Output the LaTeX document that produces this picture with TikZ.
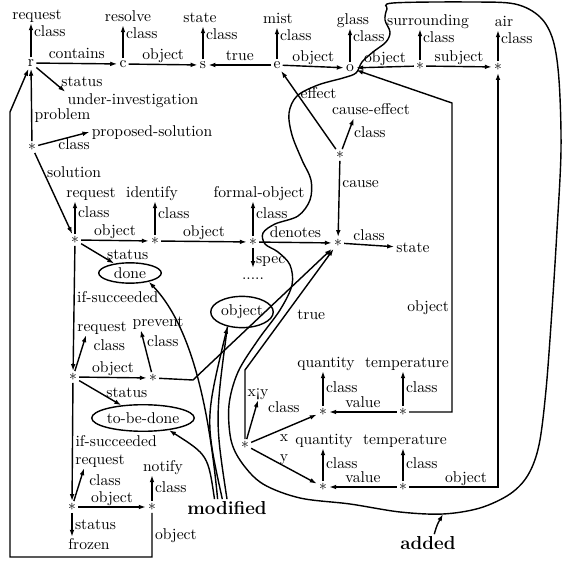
\documentclass[tikz,border=0pt]{standalone}
\usetikzlibrary{arrows.meta,shapes.geometric}
\begin{document}
\begin{tikzpicture}[x=0.64pt, y=-0.64pt, line width=0.9pt, >={Latex[length=4.5pt,width=3pt]},
    ast/.style={inner sep=1pt},
    word/.style={inner sep=1pt, text height=1.5ex, text depth=0.25ex},
    lab/.style={inner sep=1.5pt, text height=1.5ex, text depth=0.25ex},
    tag/.style={draw, ellipse, inner sep=0pt},
    big/.style={inner sep=1pt, font=\large\bfseries}]
  \useasboundingbox (0,0) rectangle (566,564);

  \node[ast] (r) at (31,63) {r};
  \node[ast] (c) at (123,64) {c};
  \node[ast] (s) at (203,65) {s};
  \node[ast] (e) at (277,65) {e};
  \node[ast] (o) at (350,68) {o};
  \node[ast] (surr) at (420,66) {$*$};
  \node[ast] (air) at (498,67) {$*$};

  \node[word] (request) at (37,15) {request};
  \node[word] (resolve) at (128,17) {resolve};
  \node[word] (state) at (200,18) {state};
  \node[word] (mist) at (278,19) {mist};
  \node[word] (glass) at (353,20) {glass};
  \node[word] (surrounding) at (428,21) {surrounding};
  \node[word] (airw) at (504,22) {air};

  \draw[->] (r) -- (r |- request.south) node[lab, pos=0.72, right] {class};
  \draw[->] (c) -- (c |- resolve.south) node[lab, pos=0.72, right] {class};
  \draw[->] (s) -- (s |- state.south) node[lab, pos=0.72, right] {class};
  \draw[->] (e) -- (e |- mist.south) node[lab, pos=0.72, right] {class};
  \draw[->] (o) -- (o |- glass.south) node[lab, pos=0.72, right] {class};
  \draw[->] (surr) -- (surr |- surrounding.south) node[lab, pos=0.72, right] {class};
  \draw[->] (air) -- (air |- airw.south) node[lab, pos=0.72, right] {class};

  \draw[->] (r) -- (c) node[lab, midway, above] {contains};
  \draw[->] (c) -- (s) node[lab, midway, above] {object};
  \draw[->] (e) -- (s) node[lab, midway, above] {true};
  \draw[->] (e) -- (o) node[lab, midway, above] {object};
  \draw[->] (surr) -- (o) node[lab, midway, above] {object};
  \draw[->] (surr) -- (air) node[lab, midway, above] {subject};

  \node[word] (ui) at (133,100) {under-investigation};
  \draw[->] (r) -- (ui.north west) node[lab, pos=0.6, right=3pt] {status};

  \node[ast] (p) at (32,147) {$*$};
  \node[word] (ps) at (152,132) {proposed-solution};
  \draw[->] (p) -- (r) node[lab, pos=0.35, right] {problem};
  \draw[->] (p) -- (ps.west) node[lab, pos=0.7, below] {class};

  \node[ast] (s1) at (75,240) {$*$};
  \node[word] (request2) at (91,193) {request};
  \node[ast] (s2) at (155,241) {$*$};
  \node[word] (identify) at (152,193) {identify};
  \node[ast] (f) at (253,242) {$*$};
  \node[word] (formal) at (259,193) {formal-object};
  \node[ast] (st) at (338,243) {$*$};
  \node[word] (state2) at (413,248) {state};
  \node[ast] (ce) at (340,155) {$*$};
  \node[word] (causeeffect) at (371,110) {cause-effect};
  \node[inner sep=1pt] (dots) at (253,279) {.....};

  \draw[->] (p) -- (s1) node[lab, pos=0.25, right] {solution};
  \draw[->] (s1) -- (s1 |- request2.south) node[lab, pos=0.62, right] {class};
  \draw[->] (s2) -- (s2 |- identify.south) node[lab, pos=0.62, right] {class};
  \draw[->] (f) -- (f |- formal.south) node[lab, pos=0.62, right] {class};
  \draw[->] (s1) -- (s2) node[lab, midway, above] {object};
  \draw[->] (s2) -- (f) node[lab, midway, above] {object};
  \draw[->] (f) -- (st) node[lab, midway, above] {denotes};
  \draw[->] (st) -- (state2) node[lab, midway, above] {class};
  \draw[->] (ce) -- (st) node[lab, pos=0.3, right] {cause};
  \draw[->] (ce) -- ([xshift=-11pt]causeeffect.south) node[lab, pos=0.5, right=2pt] {class};
  \draw[->] (ce) -- (e) node[lab, pos=0.7, right] {effect};
  \draw[->, shorten >=5pt] (f) -- (f |- dots.north) node[lab, pos=0.4, right] {spec};

  \node[tag, minimum width=40pt, minimum height=13pt] (done) at (130,273) {done};
  \draw[->] (s1) -- (done) node[lab, pos=0.6, right=2pt] {status};

  \node[ast] (t1) at (73,377) {$*$};
  \node[word] (request3) at (102,327) {request};
  \node[ast] (t2) at (153,378) {$*$};
  \node[word] (prevent) at (158,322) {prevent};
  \node[tag, minimum width=56pt, minimum height=17pt] (tbd) at (143,418) {to-be-done};
  \node[tag, minimum width=40pt, minimum height=20pt] (obj) at (242,312) {object};

  \draw[->] (s1) -- (t1) node[lab, pos=0.42, right] {if-succeeded};
  \draw[->] (t1) -- ([xshift=7pt]request3.south west) node[lab, pos=0.7, right=5pt] {class};
  \draw[->] (t2) -- ([xshift=-11pt]prevent.south) node[lab, pos=0.7, right] {class};
  \draw[->] (t1) -- (t2) node[lab, midway, above] {object};
  \draw[->] (t1) -- (tbd) node[lab, midway, right=2pt] {status};

  \node[ast] (b1) at (72,507) {$*$};
  \node[word] (request4) at (100,460) {request};
  \node[ast] (b2) at (152,507) {$*$};
  \node[word] (notify) at (163,467) {notify};
  \node[word] (frozen) at (89,545) {frozen};

  \draw[->] (t1) -- (b1) node[lab, pos=0.5, right] {if-succeeded};
  \draw[->] (b1) -- ([xshift=7pt]request4.south west) node[lab, pos=0.6, right=4pt] {class};
  \draw[->] (b2) -- (b2 |- notify.south) node[lab, midway, right] {class};
  \draw[->] (b1) -- (b2) node[lab, midway, above] {object};
  \draw[->] (b1) -- (b1 |- frozen.north) node[lab, midway, right] {status};

  \coordinate (k1) at (10,557);
  \coordinate (k2) at (10,112);
  \draw[->] (b2) -- (b2 |- k1) node[lab, midway, right] {object} -- (k1) -- (k2) -- (r);

  \node[ast] (xy) at (245,445) {$*$};
  \node[word] (xyw) at (258,392) {x¡y};
  \node[ast] (q1) at (323,412) {$*$};
  \node[ast] (tt1) at (403,412) {$*$};
  \node[ast] (q2) at (323,487) {$*$};
  \node[ast] (tt2) at (403,487) {$*$};
  \node[word] (quant1) at (326,363) {quantity};
  \node[word] (temp1) at (407,363) {temperature};
  \node[word] (quant2) at (324,440) {quantity};
  \node[word] (temp2) at (405,440) {temperature};

  \draw[->] (xy) -- (xyw.south) node[lab, pos=0.8, right=6pt] {class};
  \draw[->] (xy) -- (q1) node[lab, midway, below] {x};
  \draw[->] (xy) -- (q2) node[lab, midway, above] {y};
  \draw[->] (q1) -- (q1 |- quant1.south) node[lab, midway, right] {class};
  \draw[->] (tt1) -- (tt1 |- temp1.south) node[lab, midway, right] {class};
  \draw[->] (q2) -- (q2 |- quant2.south) node[lab, midway, right] {class};
  \draw[->] (tt2) -- (tt2 |- temp2.south) node[lab, midway, right] {class};
  \draw[->] (tt1) -- (q1) node[lab, midway, above] {value};
  \draw[->] (tt2) -- (q2) node[lab, midway, above] {value};

  \coordinate (k3) at (452,103);
  \draw[->] (tt1) -- (tt1 -| k3) -- (k3) node[lab, pos=0.34, left] {object} -- (o);
  \draw[->] (tt2) -- (tt2 -| air) node[lab, pos=0.64, above] {object} -- (air);

  \coordinate (k4) at (193,380);
  \coordinate (k5) at (242,370);
  \draw[->] (t2) -- (k4) -- (st);
  \draw[->] (xy) -- (xy |- k5) -- (st) node[lab, pos=0.45, right=6pt] {true};

  \node[big] (mod) at (227,508) {modified};
  \draw[->] ([xshift=-6pt]mod.north) .. controls (210,420) and (195,330) .. (done.-25);
  \draw[->] ([xshift=-8pt]mod.north) .. controls (208,455) .. (tbd.-25);
  \draw[->] ([xshift=-3pt]mod.north) .. controls (205,420) .. (obj.225);
  \draw (mod.north) .. controls (215,420) .. (obj.225);

  \node[big] (add) at (428,543) {added};
  \coordinate (k6) at (443,514);
  \draw[->] ([xshift=4pt]add.north) .. controls (437,525) .. (k6);

  \draw plot[smooth cycle, tension=0.55] coordinates {
    (393,3) (470,2) (515,4) (540,17) (553,40) (559,80) (561,150) (557,230)
    (552,310) (546,390) (539,445) (528,475) (510,494) (480,508) (443,514)
    (400,512) (350,504) (300,498) (263,484) (242,463) (231,440) (229,405)
    (238,372) (258,340) (280,310) (292,285) (290,265) (278,252) (265,244)
    (263,233) (275,224) (298,216) (310,200) (311,180) (302,160) (292,135)
    (289,113) (297,96) (318,85) (343,78) (356,73) (362,62) (373,52) (386,42)
    (390,32) (385,20) (387,9)};
\end{tikzpicture}
\end{document}
